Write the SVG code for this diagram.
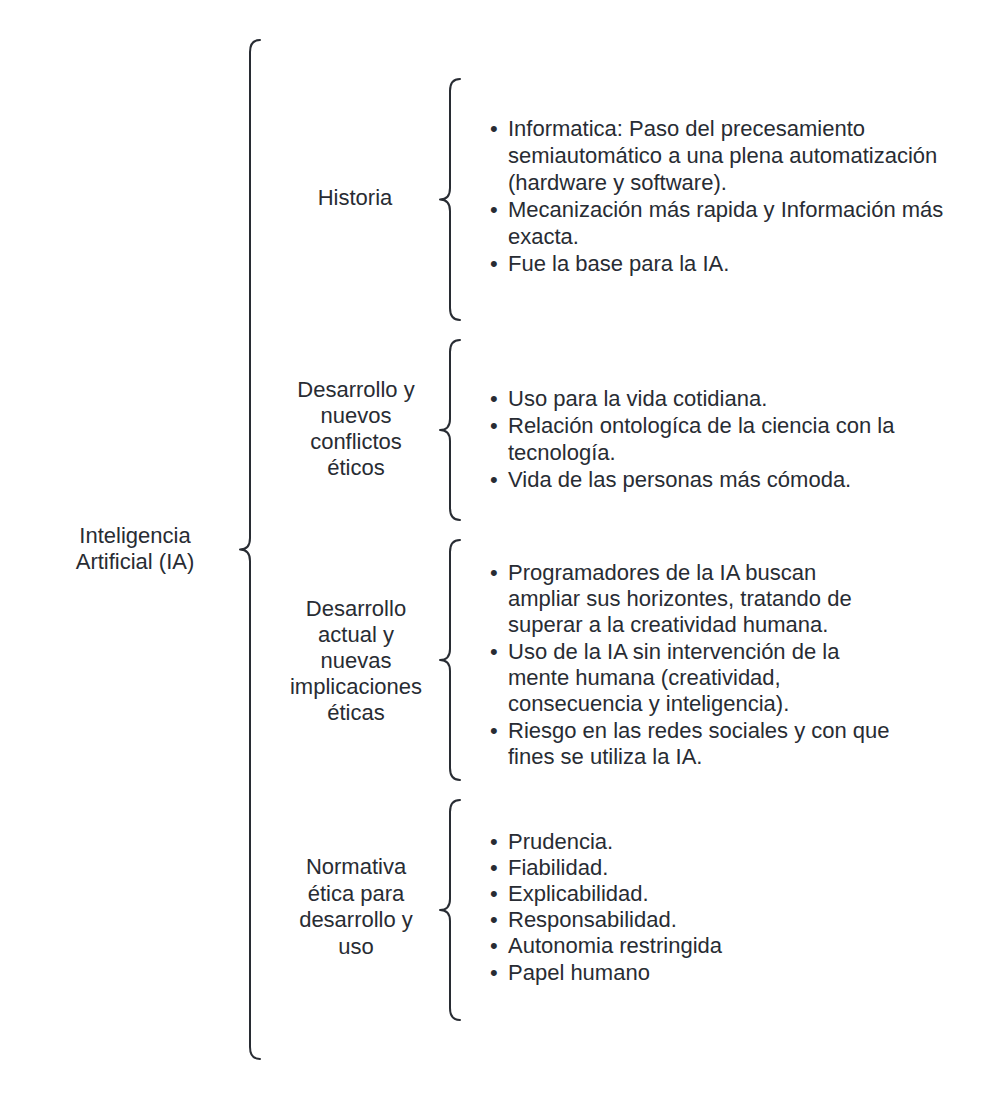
<svg xmlns="http://www.w3.org/2000/svg" width="1000" height="1100" viewBox="0 0 1000 1100">
<style>
.br{fill:none;stroke:#282c33;stroke-width:2;stroke-linecap:round;stroke-linejoin:round}
text{font-family:"Liberation Sans",Arial,sans-serif;font-size:22px;fill:#282c33}
.c{text-anchor:middle}
</style>
<rect width="1000" height="1100" fill="#ffffff"/>
<g id="connectors">
<path class="br" d="M260,40 Q250,40 250,52 L250,538 Q250,549.5 240,549.5 Q250,549.5 250,561 L250,1047 Q250,1059 260,1059"/>
<path class="br" d="M460,79 Q450,79 450,91 L450,188 Q450,199.5 440,199.5 Q450,199.5 450,211 L450,308 Q450,320 460,320"/>
<path class="br" d="M460,340 Q450,340 450,352 L450,419 Q450,430 440,430 Q450,430 450,441 L450,508 Q450,520 460,520"/>
<path class="br" d="M460,540 Q450,540 450,552 L450,649 Q450,660 440,660 Q450,660 450,671 L450,768 Q450,780 460,780"/>
<path class="br" d="M460,800 Q450,800 450,812 L450,899 Q450,910 440,910 Q450,910 450,921 L450,1008 Q450,1020 460,1020"/>
</g>
<g id="root">
<text class="c" x="135" y="543">Inteligencia</text>
<text class="c" x="135" y="569">Artificial (IA)</text>
</g>
<g id="historia">
<text class="c" x="355" y="205">Historia</text>
</g>
<g id="desarrollo1">
<text class="c" x="356" y="397">Desarrollo y</text>
<text class="c" x="356" y="423">nuevos</text>
<text class="c" x="356" y="449">conflictos</text>
<text class="c" x="356" y="475">éticos</text>
</g>
<g id="desarrollo2">
<text class="c" x="356" y="616">Desarrollo</text>
<text class="c" x="356" y="642">actual y</text>
<text class="c" x="356" y="668">nuevas</text>
<text class="c" x="356" y="694">implicaciones</text>
<text class="c" x="356" y="720">éticas</text>
</g>
<g id="normativa">
<text class="c" x="356" y="874">Normativa</text>
<text class="c" x="356" y="901">ética para</text>
<text class="c" x="356" y="927">desarrollo y</text>
<text class="c" x="356" y="954">uso</text>
</g>
<g id="historia-items">
<text x="490" y="136">•</text><text x="508" y="136">Informatica: Paso del precesamiento</text>
<text x="508" y="163">semiautomático a una plena automatización</text>
<text x="508" y="190">(hardware y software).</text>
<text x="490" y="217">•</text><text x="508" y="217">Mecanización más rapida y Información más</text>
<text x="508" y="244">exacta.</text>
<text x="490" y="271">•</text><text x="508" y="271">Fue la base para la IA.</text>
</g>
<g id="desarrollo1-items">
<text x="490" y="406">•</text><text x="508" y="406">Uso para la vida cotidiana.</text>
<text x="490" y="433">•</text><text x="508" y="433">Relación ontologíca de la ciencia con la</text>
<text x="508" y="460">tecnología.</text>
<text x="490" y="487">•</text><text x="508" y="487">Vida de las personas más cómoda.</text>
</g>
<g id="desarrollo2-items">
<text x="490" y="580">•</text><text x="508" y="580">Programadores de la IA buscan</text>
<text x="508" y="606">ampliar sus horizontes, tratando de</text>
<text x="508" y="632">superar a la creatividad humana.</text>
<text x="490" y="659">•</text><text x="508" y="659">Uso de la IA sin intervención de la</text>
<text x="508" y="685">mente humana (creatividad,</text>
<text x="508" y="711">consecuencia y inteligencia).</text>
<text x="490" y="738">•</text><text x="508" y="738">Riesgo en las redes sociales y con que</text>
<text x="508" y="764">fines se utiliza la IA.</text>
</g>
<g id="normativa-items">
<text x="490" y="849">•</text><text x="508" y="849">Prudencia.</text>
<text x="490" y="875">•</text><text x="508" y="875">Fiabilidad.</text>
<text x="490" y="901">•</text><text x="508" y="901">Explicabilidad.</text>
<text x="490" y="927">•</text><text x="508" y="927">Responsabilidad.</text>
<text x="490" y="953">•</text><text x="508" y="953">Autonomia restringida</text>
<text x="490" y="980">•</text><text x="508" y="980">Papel humano</text>
</g>
</svg>
